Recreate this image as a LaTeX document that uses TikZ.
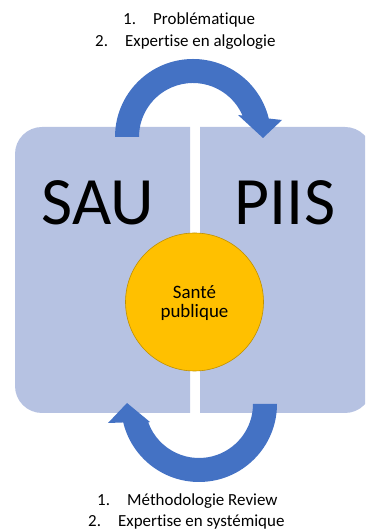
\documentclass[tikz,border=0pt]{standalone}
\usepackage{fontspec}
\setmainfont{Carlito}[Ligatures=NoCommon]
\definecolor{boxblue}{HTML}{B6C2E2}
\definecolor{arrowblue}{HTML}{4472C4}
\definecolor{gold}{HTML}{FFC000}
\definecolor{golddark}{HTML}{BF9000}
\tikzset{
  panel/.style={fill=boxblue},
  bigarrow/.style={fill=arrowblue},
  listline/.style={anchor=base west, inner sep=0pt, font=\fontsize{17}{20}\selectfont},
  bigtext/.style={anchor=base, inner sep=0pt, font=\fontsize{68}{70}\selectfont},
  hub/.style={circle, fill=gold, draw=golddark, line width=0.6bp, minimum size=138bp, inner sep=0pt},
  hubtext/.style={anchor=base, inner sep=0pt, font=\fontsize{19}{19}\selectfont}
}
\newcommand{\numitem}[2]{\makebox[30bp][l]{#1}#2}
\begin{document}
\begin{tikzpicture}[x=1bp,y=1bp]
\useasboundingbox (0,0) rectangle (365,530);
\clip (0,0) rectangle (365,530);
% panels
\fill[panel] (190,403) -- (42,403) arc[start angle=90,end angle=180,radius=27]
  -- (15,144) arc[start angle=180,end angle=270,radius=27] -- (190,117) -- cycle;
\fill[panel] (200,403) -- (345,403) arc[start angle=90,end angle=0,radius=27]
  -- (372,144) arc[start angle=0,end angle=-90,radius=27] -- (200,117) -- cycle;
% top arrow
\begin{scope}[shift={(193,393)}]
\fill[bigarrow] (180:78) arc[start angle=180,end angle=13.7,radius=78]
  -- (89,17) -- (70,-1) -- (45,22) -- (23.4:54) arc[start angle=23.4,end angle=180,radius=54] -- cycle;
\end{scope}
% bottom arrow
\begin{scope}[shift={(199,126)}]
\fill[bigarrow] (0:78) arc[start angle=0,end angle=-166.3,radius=78]
  -- (-91,-19) -- (-72,1) -- (-49,-18) -- (-160:54) arc[start angle=-160,end angle=0,radius=54] -- cycle;
\end{scope}
% labels
\node[bigtext] (sau) at (98,305) {SAU};
\node[bigtext] (piis) at (285,305) {PIIS};
\node[hub] (sante) at (194.5,228) {};
\node[hubtext] (sante1) at (194.5,231) {Santé};
\node[hubtext] (sante2) at (194.5,212) {publique};
% lists
\node[listline] (t1) at (123,505) {\numitem{1.}{Problématique}};
\node[listline] (t2) at (95,483) {\numitem{2.}{Expertise en algologie}};
\node[listline] (b1) at (97,24) {\numitem{1.}{Méthodologie Review}};
\node[listline] (b2) at (88,3) {\numitem{2.}{Expertise en systémique}};
\end{tikzpicture}
\end{document}
